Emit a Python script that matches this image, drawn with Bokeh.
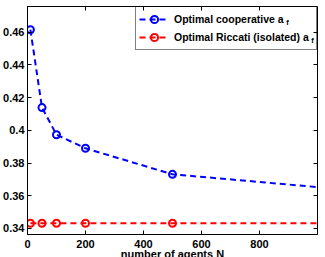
from bokeh.plotting import figure
from bokeh.models import (Range1d, LinearAxis, FixedTicker, Legend, LegendItem, Label, Title)
from bokeh.embed import file_html
from bokeh.resources import INLINE

# Number of agents and the optimal a_f values
n_agents = [10, 50, 100, 200, 500, 1000]
af_cooperative = [0.4615, 0.4139, 0.3973, 0.3890, 0.3731, 0.3653]
af_riccati = [0.3432, 0.3432, 0.3432, 0.3432, 0.3432, 0.3432]
n_marked = 5  # markers drawn on the first five sample sizes

x_ticks = [0, 200, 400, 600, 800]
y_ticks = [0.34, 0.36, 0.38, 0.40, 0.42, 0.44, 0.46]
y_tick_labels = {0.34: "0.34", 0.36: "0.36", 0.38: "0.38", 0.40: "0.4",
                 0.42: "0.42", 0.44: "0.44", 0.46: "0.46"}

label_coop = "Optimal cooperative a"
label_ric = "Optimal Riccati (isolated) a"
x_label = "number of agents N"

FONT = "Liberation Sans"
X0, X1 = 0, 1000
Y0, Y1 = 0.3363, 0.4757
W, H = 325, 257
BL, BR, BT, BB = 25, 8, 6, 23
FW, FH = W - BL - BR, H - BT - BB

p = figure(width=W, height=H, output_backend="svg", toolbar_location=None,
           x_range=Range1d(X0, X1), y_range=Range1d(Y0, Y1),
           min_border_left=BL, min_border_right=BR,
           min_border_top=BT, min_border_bottom=BB,
           x_axis_type=None, y_axis_type=None)
p.grid.visible = False
p.outline_line_color = "black"
p.outline_line_width = 1


def style_axis(ax, ticks, show_labels):
    ax.ticker = FixedTicker(ticks=ticks)
    ax.major_tick_in = 4
    ax.major_tick_out = 0
    ax.minor_tick_line_color = None
    ax.major_tick_line_color = "black"
    ax.axis_line_color = "black"
    ax.major_label_text_font = FONT
    ax.major_label_text_font_style = "bold"
    ax.major_label_text_color = "black"
    ax.major_label_text_font_size = "11px"
    if not show_labels:
        # tick marks only (box-style axes on top and right)
        ax.major_label_text_color = None
        ax.major_label_text_font_size = "0px"
        ax.major_label_standoff = 0
        ax.axis_line_color = None


xb = LinearAxis()
style_axis(xb, x_ticks, True)
xb.major_label_standoff = 5
p.add_layout(xb, "below")

yl = LinearAxis()
style_axis(yl, y_ticks, True)
yl.major_label_standoff = 3
yl.major_label_overrides = y_tick_labels
p.add_layout(yl, "left")

xt = LinearAxis()
style_axis(xt, x_ticks, False)
p.add_layout(xt, "above")

yr = LinearAxis()
style_axis(yr, y_ticks, False)
p.add_layout(yr, "right")

# series
l1 = p.line(n_agents, af_cooperative, line_color="blue", line_width=2, line_dash="6 4")
m1 = p.scatter(n_agents[:n_marked], af_cooperative[:n_marked], marker="circle", size=7,
               line_color="blue", line_width=2, fill_color=None)
l2 = p.line(n_agents, af_riccati, line_color="red", line_width=2, line_dash="6 4")
m2 = p.scatter(n_agents[:n_marked], af_riccati[:n_marked], marker="circle", size=7,
               line_color="red", line_width=2, fill_color=None)

LEG_FS = 10.5
LEG_W = 180
legend = Legend(items=[LegendItem(label=label_coop, renderers=[l1, m1]),
                       LegendItem(label=label_ric, renderers=[l2, m2])],
                location="top_right", margin=0, padding=3, spacing=0,
                label_height=18, glyph_height=18, glyph_width=30, label_standoff=5,
                label_width=LEG_W - 41,
                label_text_font=FONT, label_text_font_style="bold",
                label_text_font_size=f"{LEG_FS}px", label_text_color="black",
                border_line_color="black", border_line_width=1,
                background_fill_alpha=0.0)
p.add_layout(legend)

# subscript "f" after each legend label (Arial-bold advance widths);
# screen units are measured from the frame's bottom-left corner
adv = {"O": .778, "p": .611, "t": .333, "i": .278, "m": .889, "a": .556, "l": .278,
       " ": .278, "c": .556, "o": .611, "e": .556, "r": .389, "v": .556, "R": .722,
       "(": .333, ")": .333, "s": .556, "d": .611}
text_x0 = FW - LEG_W + 3 + 30 + 5
for i, lab in enumerate([label_coop, label_ric]):
    wdt = sum(adv.get(ch, .556) for ch in lab) * LEG_FS
    row_c = 3 + 9 + 18 * i
    p.add_layout(Label(x=text_x0 + wdt - 1.0, y=FH - row_c - 4,
                       x_units="screen", y_units="screen", text="f",
                       text_font=FONT, text_font_style="bold", text_font_size="7.5px",
                       text_baseline="middle", text_align="left", text_color="black"))

# x-axis title under the tick labels, running past the bottom edge
try:
    x_title = Title(text=x_label, align="center", vertical_align="bottom", standoff=-9,
                    text_font=FONT, text_font_style="bold", text_font_size="11px",
                    text_color="black")
    p.add_layout(x_title, "below")
except Exception:
    p.add_layout(Label(x=FW / 2, y=7, x_units="screen", y_units="screen",
                       text=x_label, text_font=FONT,
                       text_font_style="bold", text_font_size="11px", text_align="center",
                       text_baseline="top", text_color="black"), "below")

open("out.html", "w").write(file_html(p, INLINE))
